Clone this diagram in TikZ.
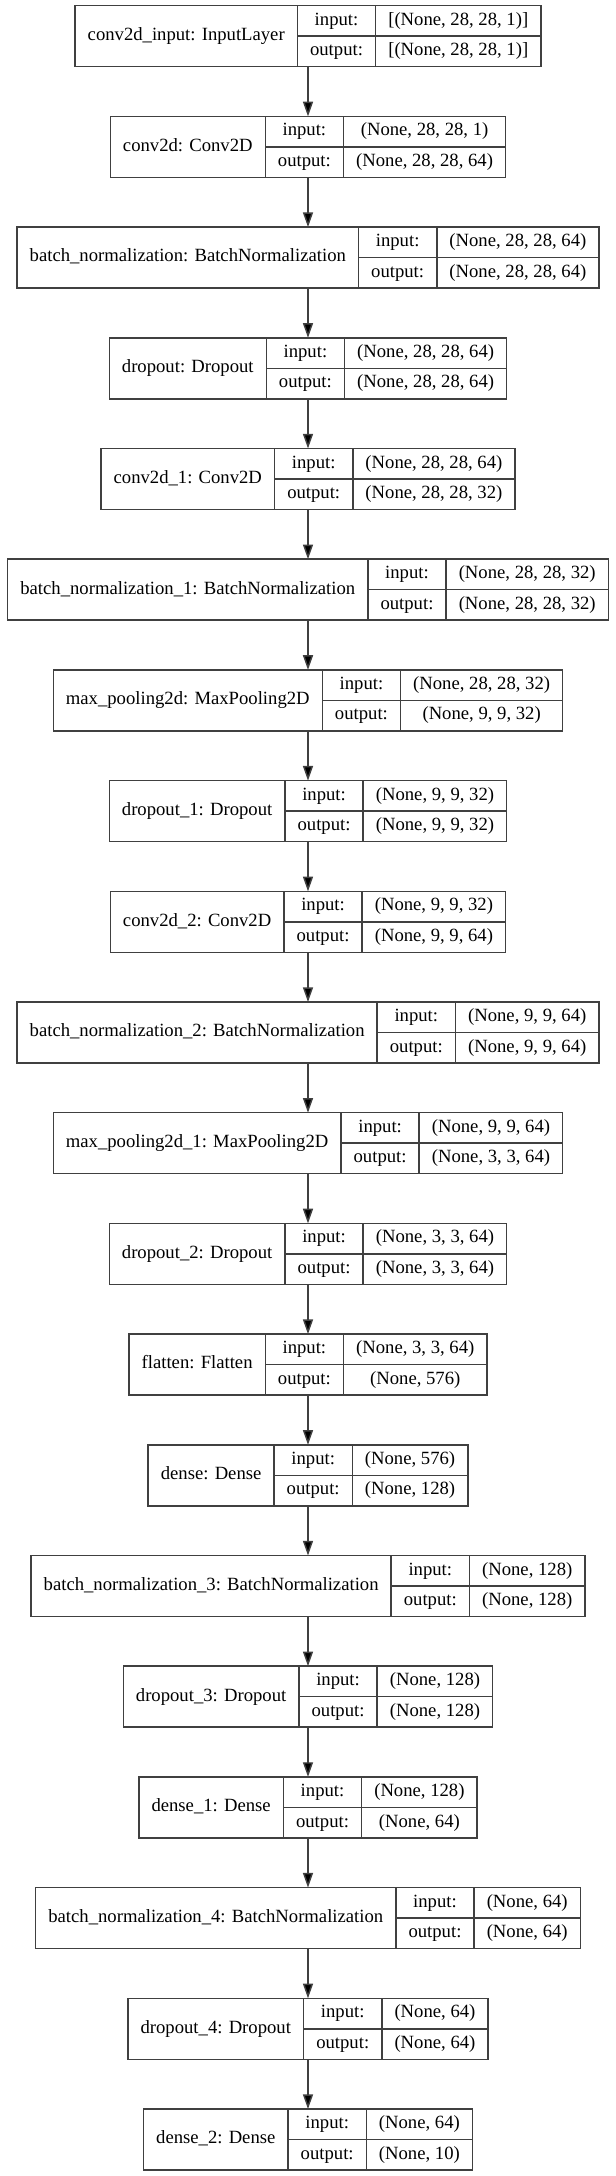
\documentclass[tikz,border=0pt]{standalone}
\usepackage{fontspec}
\setmainfont{Liberation Serif}
\usetikzlibrary{arrows.meta}

\newcommand{\layerfont}{\fontsize{14pt}{16pt}\selectfont}
\newlength{\wname}
\newlength{\wio}
\newlength{\wshape}
\newlength{\wtmp}
\newlength{\wtotal}
\definecolor{edgegray}{RGB}{64,64,64}

% name / input shape / output shape of every layer
\newcommand{\layerlist}{%
  1/{conv2d\_input: InputLayer}/{[(None, 28, 28, 1)]}/{[(None, 28, 28, 1)]},
  2/{conv2d: Conv2D}/{(None, 28, 28, 1)}/{(None, 28, 28, 64)},
  3/{batch\_normalization: BatchNormalization}/{(None, 28, 28, 64)}/{(None, 28, 28, 64)},
  4/{dropout: Dropout}/{(None, 28, 28, 64)}/{(None, 28, 28, 64)},
  5/{conv2d\_1: Conv2D}/{(None, 28, 28, 64)}/{(None, 28, 28, 32)},
  6/{batch\_normalization\_1: BatchNormalization}/{(None, 28, 28, 32)}/{(None, 28, 28, 32)},
  7/{max\_pooling2d: MaxPooling2D}/{(None, 28, 28, 32)}/{(None, 9, 9, 32)},
  8/{dropout\_1: Dropout}/{(None, 9, 9, 32)}/{(None, 9, 9, 32)},
  9/{conv2d\_2: Conv2D}/{(None, 9, 9, 32)}/{(None, 9, 9, 64)},
  10/{batch\_normalization\_2: BatchNormalization}/{(None, 9, 9, 64)}/{(None, 9, 9, 64)},
  11/{max\_pooling2d\_1: MaxPooling2D}/{(None, 9, 9, 64)}/{(None, 3, 3, 64)},
  12/{dropout\_2: Dropout}/{(None, 3, 3, 64)}/{(None, 3, 3, 64)},
  13/{flatten: Flatten}/{(None, 3, 3, 64)}/{(None, 576)},
  14/{dense: Dense}/{(None, 576)}/{(None, 128)},
  15/{batch\_normalization\_3: BatchNormalization}/{(None, 128)}/{(None, 128)},
  16/{dropout\_3: Dropout}/{(None, 128)}/{(None, 128)},
  17/{dense\_1: Dense}/{(None, 128)}/{(None, 64)},
  18/{batch\_normalization\_4: BatchNormalization}/{(None, 64)}/{(None, 64)},
  19/{dropout\_4: Dropout}/{(None, 64)}/{(None, 64)},
  20/{dense\_2: Dense}/{(None, 64)}/{(None, 10)}}

% field widths from the texts (measured outside the picture)
\AtBeginDocument{%
  \settowidth{\wio}{\layerfont output:}\addtolength{\wio}{19pt}%
  \xdef\iow{\the\wio}%
  \foreach \i/\lname/\shin/\shout in \layerlist {%
    \settowidth{\wname}{\layerfont\lname}\addtolength{\wname}{19pt}%
    \settowidth{\wshape}{\layerfont\shin}%
    \settowidth{\wtmp}{\layerfont\shout}%
    \ifdim\wtmp>\wshape \setlength{\wshape}{\wtmp}\fi
    \addtolength{\wshape}{19pt}%
    \setlength{\wtotal}{\wname}\addtolength{\wtotal}{\wio}\addtolength{\wtotal}{\wshape}%
    \expandafter\xdef\csname namew\i\endcsname{\the\wname}%
    \expandafter\xdef\csname shapew\i\endcsname{\the\wshape}%
    \expandafter\xdef\csname totalw\i\endcsname{\the\wtotal}%
  }%
}

\tikzstyle{model_style}=[x=0.75pt,y=-0.75pt,
  line width=1.1pt,
  layer/.style={rectangle,draw=edgegray,inner sep=0pt,outer sep=0pt,minimum height=45.75pt},
  cell/.style={rectangle,draw=edgegray,inner sep=0pt,outer sep=0pt,anchor=north west,font=\layerfont,text height=9.5pt,text depth=3pt,minimum height=22.875pt},
  link/.style={draw=edgegray,-{Triangle[length=11pt,width=7.5pt,fill=black]}},]

\begin{document}
\begin{tikzpicture}[model_style]
  \useasboundingbox (0,0) rectangle (616,2176);

  \def\xmid{308}
  \def\ystep{110.7}

    % Draw every layer as a record: name | input:/output: | shapes
    \foreach \i/\lname/\shin/\shout in \layerlist {
      \edef\namew{\csname namew\i\endcsname}
      \edef\shapew{\csname shapew\i\endcsname}
      \edef\totalw{\csname totalw\i\endcsname}
      \node[layer,minimum width=\totalw] (L-\i) at (\xmid,{36.2+\ystep*(\i-1)}) {};
      \node[cell,minimum width=\namew,minimum height=45.75pt] (N-\i) at (L-\i.north west) {\lname};
      \node[cell,minimum width=\iow] (I-\i) at (N-\i.north east) {input:};
      \node[cell,minimum width=\iow] (O-\i) at (I-\i.south west) {output:};
      \node[cell,minimum width=\shapew] (SI-\i) at (I-\i.north east) {\shin};
      \node[cell,minimum width=\shapew] (SO-\i) at (O-\i.north east) {\shout};
    }

    % Connect every layer with the next one
    \foreach \i [count=\j from 2] in {1,...,19}
        \path (L-\i) edge[link] (L-\j);

\end{tikzpicture}
\end{document}
